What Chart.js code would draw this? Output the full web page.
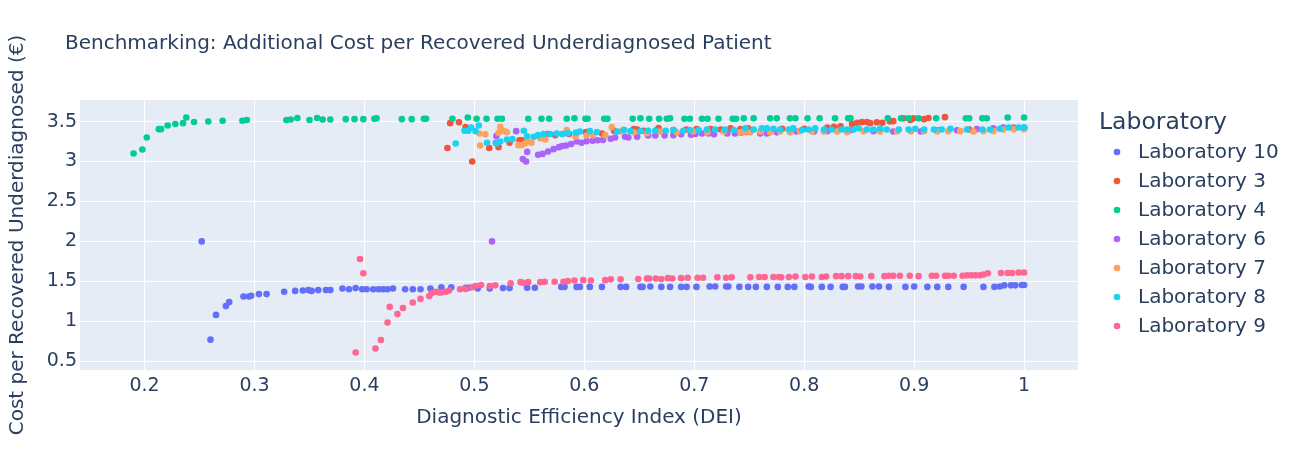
<!DOCTYPE html>
<html>
<head>
<meta charset="utf-8">
<script src="https://cdn.jsdelivr.net/npm/chart.js@4.4.1/dist/chart.umd.min.js"></script>
<style>
  html, body { margin: 0; padding: 0; background: #fff; }
  #wrap { width: 1296px; height: 450px; }
</style>
</head>
<body>
<div id="wrap"><canvas id="chart" width="1296" height="450"></canvas></div>
<script>
const labNames = ['Laboratory 10', 'Laboratory 3', 'Laboratory 4', 'Laboratory 6', 'Laboratory 7', 'Laboratory 8', 'Laboratory 9'];
const labColors = ['#636efa', '#EF553B', '#00cc96', '#ab63fa', '#FFA15A', '#19d3f3', '#FF6692'];

// [DEI, cost] pairs
const lab10 = [[0.252,2.0],[0.260,0.77],[0.265,1.08],[0.274,1.19],[0.277,1.24],[0.290,1.31],[0.295,1.31],[0.297,1.32],[0.304,1.34],[0.311,1.34],[0.327,1.37],[0.337,1.38],[0.344,1.385],[0.349,1.39],[0.352,1.38],[0.358,1.39],[0.365,1.39],[0.369,1.39],[0.380,1.41],[0.386,1.40],[0.392,1.415],[0.398,1.40],[0.402,1.40],[0.408,1.40],[0.413,1.40],[0.417,1.40],[0.421,1.40],[0.426,1.41],[0.437,1.40],[0.444,1.40],[0.451,1.40],[0.460,1.41],[0.470,1.425],[0.479,1.425],[0.492,1.42],[0.495,1.42],[0.503,1.41],[0.514,1.41],[0.526,1.415],[0.532,1.415],[0.548,1.42],[0.555,1.42],[0.579,1.43],[0.582,1.43],[0.593,1.43],[0.596,1.43],[0.605,1.43],[0.616,1.43],[0.633,1.43],[0.638,1.43],[0.651,1.43],[0.653,1.43],[0.660,1.435],[0.670,1.43],[0.678,1.43],[0.688,1.43],[0.693,1.43],[0.702,1.43],[0.714,1.435],[0.719,1.435],[0.729,1.435],[0.731,1.435],[0.741,1.43],[0.749,1.43],[0.756,1.43],[0.766,1.43],[0.776,1.43],[0.785,1.43],[0.791,1.43],[0.804,1.435],[0.806,1.43],[0.816,1.43],[0.824,1.43],[0.835,1.43],[0.837,1.43],[0.849,1.435],[0.852,1.435],[0.862,1.435],[0.868,1.435],[0.877,1.43],[0.892,1.43],[0.900,1.435],[0.912,1.43],[0.921,1.43],[0.931,1.43],[0.945,1.43],[0.963,1.43],[0.973,1.43],[0.978,1.435],[0.982,1.45],[0.988,1.45],[0.992,1.45],[0.998,1.455],[1.0,1.455]];

const lab3 = [[0.4755,3.17],[0.478,3.48],[0.486,3.49],[0.492,3.43],[0.498,3.00],[0.5135,3.17],[0.522,3.18],[0.532,3.235],[0.541,3.265],[0.543,3.265],[0.567,3.345],[0.5735,3.33],[0.580,3.345],[0.586,3.345],[0.593,3.36],[0.6015,3.37],[0.616,3.35],[0.627,3.385],[0.636,3.395],[0.645,3.405],[0.648,3.40],[0.654,3.385],[0.666,3.395],[0.6675,3.42],[0.681,3.395],[0.693,3.40],[0.702,3.405],[0.715,3.405],[0.724,3.40],[0.733,3.415],[0.742,3.405],[0.749,3.415],[0.780,3.41],[0.800,3.41],[0.821,3.425],[0.827,3.435],[0.833,3.44],[0.8435,3.47],[0.848,3.485],[0.8525,3.495],[0.857,3.495],[0.860,3.48],[0.866,3.49],[0.871,3.485],[0.878,3.50],[0.881,3.505],[0.8905,3.54],[0.8965,3.52],[0.8995,3.54],[0.909,3.53],[0.913,3.545],[0.928,3.555],[0.950,3.40],[1.0,3.42]];

const lab4 = [[0.190,3.10],[0.198,3.15],[0.202,3.30],[0.213,3.405],[0.215,3.405],[0.221,3.45],[0.228,3.47],[0.235,3.48],[0.238,3.55],[0.245,3.495],[0.258,3.50],[0.271,3.51],[0.289,3.51],[0.293,3.52],[0.329,3.52],[0.333,3.525],[0.339,3.545],[0.350,3.52],[0.357,3.545],[0.362,3.525],[0.369,3.525],[0.383,3.53],[0.391,3.53],[0.399,3.53],[0.409,3.535],[0.411,3.54],[0.434,3.53],[0.443,3.53],[0.454,3.535],[0.456,3.535],[0.480,3.535],[0.494,3.55],[0.502,3.535],[0.511,3.535],[0.521,3.535],[0.525,3.535],[0.549,3.535],[0.561,3.535],[0.568,3.535],[0.584,3.535],[0.591,3.54],[0.601,3.535],[0.603,3.535],[0.618,3.535],[0.621,3.535],[0.644,3.535],[0.651,3.54],[0.659,3.535],[0.668,3.535],[0.675,3.535],[0.678,3.54],[0.691,3.535],[0.696,3.535],[0.707,3.535],[0.712,3.535],[0.722,3.535],[0.735,3.535],[0.738,3.535],[0.745,3.54],[0.754,3.54],[0.769,3.54],[0.775,3.54],[0.787,3.54],[0.792,3.54],[0.803,3.54],[0.814,3.54],[0.828,3.54],[0.840,3.54],[0.842,3.54],[0.876,3.54],[0.888,3.54],[0.895,3.54],[0.904,3.54],[0.920,3.54],[0.947,3.54],[0.950,3.54],[0.962,3.54],[0.966,3.54],[0.985,3.55],[1.0,3.55]];

const lab6 = [[0.516,2.0],[0.5196,3.235],[0.520,3.32],[0.538,3.38],[0.544,3.03],[0.547,3.00],[0.548,3.12],[0.558,3.085],[0.562,3.095],[0.567,3.125],[0.572,3.155],[0.577,3.18],[0.580,3.195],[0.5835,3.20],[0.588,3.22],[0.593,3.25],[0.5975,3.235],[0.602,3.255],[0.6075,3.26],[0.612,3.265],[0.617,3.27],[0.624,3.285],[0.628,3.30],[0.637,3.31],[0.640,3.30],[0.648,3.31],[0.658,3.325],[0.6645,3.325],[0.673,3.325],[0.681,3.33],[0.688,3.34],[0.697,3.335],[0.701,3.345],[0.707,3.35],[0.713,3.35],[0.718,3.34],[0.730,3.35],[0.737,3.35],[0.7425,3.36],[0.747,3.37],[0.760,3.35],[0.766,3.35],[0.775,3.365],[0.793,3.375],[0.809,3.375],[0.821,3.38],[0.842,3.39],[0.863,3.38],[0.881,3.375],[0.906,3.375],[0.921,3.39],[0.939,3.39],[0.957,3.405],[0.972,3.415],[0.981,3.425],[0.9905,3.425],[1.0,3.425]];

const lab7 = [[0.5047,3.35],[0.5053,3.20],[0.510,3.34],[0.522,3.36],[0.5235,3.435],[0.525,3.395],[0.528,3.375],[0.5296,3.365],[0.540,3.205],[0.543,3.205],[0.546,3.225],[0.549,3.25],[0.552,3.235],[0.560,3.29],[0.5645,3.275],[0.584,3.395],[0.592,3.31],[0.602,3.325],[0.608,3.33],[0.619,3.33],[0.625,3.43],[0.633,3.375],[0.645,3.365],[0.657,3.355],[0.669,3.375],[0.684,3.365],[0.699,3.375],[0.712,3.365],[0.727,3.375],[0.742,3.365],[0.7455,3.375],[0.751,3.365],[0.760,3.375],[0.769,3.365],[0.778,3.375],[0.787,3.365],[0.796,3.38],[0.807,3.375],[0.818,3.375],[0.830,3.375],[0.839,3.365],[0.854,3.38],[0.869,3.375],[0.8845,3.375],[0.897,3.375],[0.909,3.38],[0.921,3.375],[0.931,3.38],[0.942,3.38],[0.954,3.375],[0.963,3.38],[0.972,3.38],[0.981,3.40],[0.9905,3.405],[1.0,3.405]];

const lab8 = [[0.483,3.225],[0.491,3.385],[0.4945,3.385],[0.497,3.425],[0.501,3.38],[0.504,3.45],[0.5115,3.235],[0.520,3.225],[0.5235,3.25],[0.5295,3.275],[0.5345,3.28],[0.545,3.385],[0.548,3.315],[0.554,3.31],[0.558,3.33],[0.563,3.345],[0.569,3.345],[0.575,3.35],[0.580,3.345],[0.585,3.355],[0.592,3.36],[0.596,3.375],[0.605,3.38],[0.6115,3.37],[0.630,3.375],[0.636,3.395],[0.642,3.38],[0.651,3.38],[0.658,3.385],[0.6645,3.385],[0.674,3.385],[0.681,3.395],[0.690,3.385],[0.696,3.395],[0.704,3.395],[0.7115,3.40],[0.719,3.40],[0.728,3.40],[0.736,3.395],[0.7465,3.415],[0.754,3.40],[0.7615,3.415],[0.766,3.415],[0.772,3.41],[0.778,3.40],[0.786,3.40],[0.790,3.415],[0.798,3.395],[0.804,3.40],[0.810,3.415],[0.818,3.40],[0.825,3.40],[0.834,3.40],[0.839,3.40],[0.845,3.40],[0.8495,3.415],[0.857,3.40],[0.863,3.40],[0.869,3.41],[0.875,3.40],[0.886,3.40],[0.895,3.40],[0.901,3.41],[0.909,3.40],[0.918,3.40],[0.925,3.40],[0.933,3.41],[0.948,3.40],[0.962,3.40],[0.969,3.40],[0.978,3.41],[0.986,3.425],[0.995,3.425],[1.0,3.425]];

const lab9 = [[0.392,0.61],[0.396,1.78],[0.399,1.60],[0.410,0.66],[0.415,0.765],[0.421,0.985],[0.423,1.18],[0.430,1.09],[0.435,1.165],[0.444,1.235],[0.451,1.28],[0.459,1.315],[0.461,1.35],[0.465,1.37],[0.468,1.36],[0.470,1.36],[0.474,1.37],[0.477,1.385],[0.487,1.40],[0.492,1.405],[0.498,1.425],[0.501,1.44],[0.506,1.455],[0.514,1.44],[0.519,1.45],[0.533,1.475],[0.542,1.49],[0.545,1.48],[0.549,1.49],[0.560,1.49],[0.564,1.495],[0.573,1.495],[0.581,1.495],[0.585,1.505],[0.591,1.51],[0.599,1.515],[0.606,1.51],[0.619,1.515],[0.624,1.525],[0.633,1.525],[0.649,1.53],[0.657,1.535],[0.659,1.535],[0.665,1.535],[0.670,1.53],[0.676,1.54],[0.680,1.535],[0.688,1.54],[0.694,1.545],[0.703,1.545],[0.708,1.545],[0.721,1.55],[0.729,1.545],[0.734,1.55],[0.751,1.55],[0.759,1.555],[0.764,1.555],[0.772,1.555],[0.777,1.555],[0.779,1.55],[0.786,1.555],[0.792,1.56],[0.801,1.555],[0.807,1.56],[0.816,1.555],[0.820,1.56],[0.829,1.565],[0.834,1.565],[0.840,1.565],[0.847,1.565],[0.851,1.56],[0.861,1.565],[0.873,1.565],[0.877,1.57],[0.881,1.57],[0.887,1.57],[0.896,1.57],[0.904,1.565],[0.916,1.57],[0.920,1.57],[0.928,1.57],[0.931,1.57],[0.936,1.57],[0.944,1.57],[0.948,1.575],[0.952,1.575],[0.956,1.575],[0.960,1.575],[0.963,1.585],[0.967,1.60],[0.979,1.605],[0.985,1.605],[0.989,1.605],[0.995,1.61],[1.0,1.61]];

const labData = [lab10, lab3, lab4, lab6, lab7, lab8, lab9];

const xMin = 0.1413, xMax = 1.049;
const yMin = 0.39, yMax = 3.77;

const font = '"DejaVu Sans", Verdana, sans-serif';
const textColor = '#2a3f5f';

const datasets = labNames.map((name, i) => ({
    label: name,
    data: labData[i].map(p => ({ x: p[0], y: p[1] })),
    backgroundColor: labColors[i],
    borderWidth: 0,
    pointRadius: 3.3,
    order: labNames.length - i, // later traces on top, like plotly
}));

const fmt = v => String(Number(v.toFixed(2)));

// plot background, title and legend
const decor = {
    id: 'decor',
    beforeDraw(chart) {
        const { ctx, chartArea: a } = chart;
        ctx.save();
        ctx.fillStyle = '#E5ECF6';
        ctx.fillRect(a.left, a.top, a.right - a.left, a.bottom - a.top);
        ctx.restore();
    },
    afterDraw(chart) {
        const { ctx } = chart;
        ctx.save();
        ctx.fillStyle = textColor;
        ctx.textBaseline = 'middle';
        ctx.textAlign = 'left';
        ctx.font = '20px ' + font;
        ctx.fillText('Benchmarking: Additional Cost per Recovered Underdiagnosed Patient', 65, 44);

        ctx.font = '23.5px ' + font;
        ctx.fillText('Laboratory', 1099, 123);
        ctx.font = '20px ' + font;
        chart.data.datasets.forEach((ds, i) => {
            const y = 153 + i * 29;
            ctx.fillStyle = ds.backgroundColor;
            ctx.beginPath();
            ctx.arc(1117, y - 1, 3.3, 0, Math.PI * 2);
            ctx.fill();
            ctx.fillStyle = textColor;
            ctx.fillText(ds.label, 1138, y);
        });
        ctx.restore();
    }
};

new Chart(document.getElementById('chart'), {
    type: 'scatter',
    data: { datasets },
    options: {
        responsive: false,
        animation: false,
        layout: { padding: { left: 0, right: 218, top: 100, bottom: 0 } },
        plugins: {
            legend: { display: false },
            title: { display: false },
            tooltip: { enabled: false },
        },
        scales: {
            x: {
                type: 'linear',
                min: xMin,
                max: xMax,
                afterFit(scale) { scale.height = 80; },
                border: { display: false },
                grid: { color: '#ffffff', lineWidth: 1, drawTicks: false },
                ticks: {
                    stepSize: 0.1,
                    includeBounds: false,
                    padding: 5,
                    color: textColor,
                    font: { family: font, size: 19 },
                    callback: v => fmt(v),
                },
                title: {
                    display: true,
                    text: 'Diagnostic Efficiency Index (DEI)',
                    color: textColor,
                    font: { family: font, size: 20 },
                    padding: { top: 0, bottom: 20 },
                },
            },
            y: {
                type: 'linear',
                min: yMin,
                max: yMax,
                afterFit(scale) { scale.width = 80; },
                border: { display: false },
                grid: { color: '#ffffff', lineWidth: 1, drawTicks: false },
                ticks: {
                    stepSize: 0.5,
                    includeBounds: false,
                    padding: 3,
                    color: textColor,
                    font: { family: font, size: 19 },
                    callback: v => fmt(v),
                },
                title: {
                    display: true,
                    text: 'Cost per Recovered Underdiagnosed (€)',
                    color: textColor,
                    font: { family: font, size: 20 },
                    padding: { top: 6, bottom: 0 },
                },
            },
        },
    },
    plugins: [decor],
});
</script>
</body>
</html>
